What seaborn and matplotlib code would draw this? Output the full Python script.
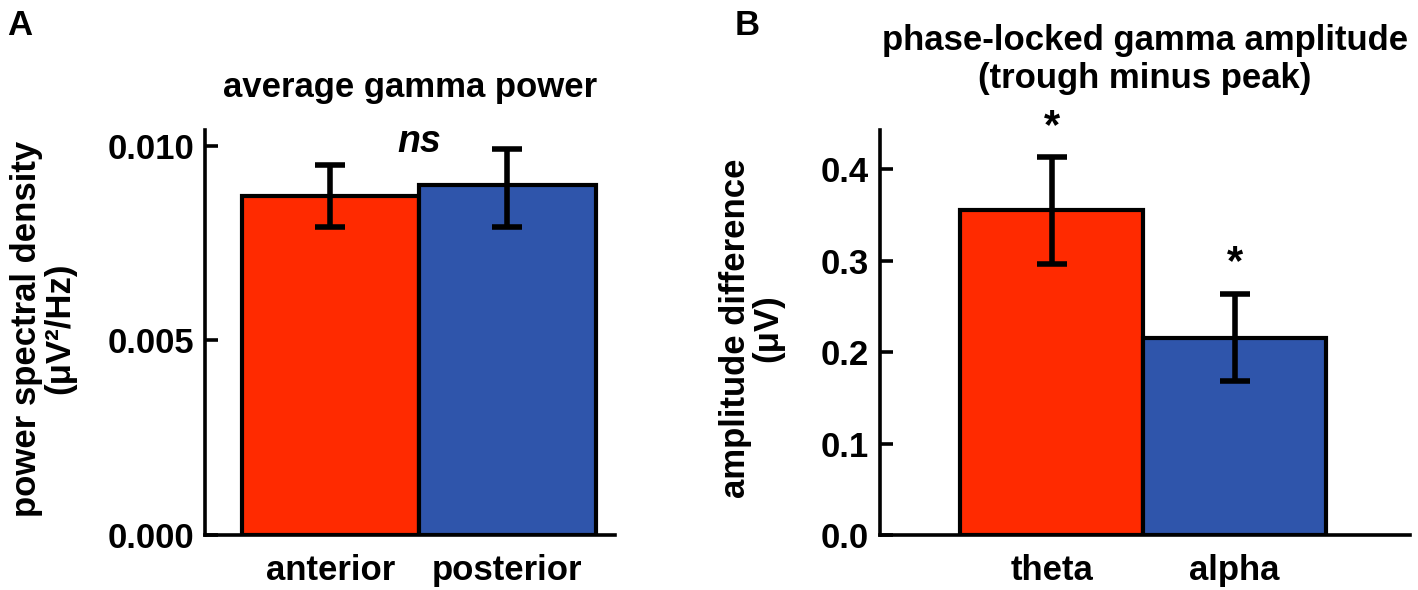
import pandas as pd
import seaborn as sns
import matplotlib.pyplot as plt

# data
regions = ['anterior', 'posterior']
gamma_power = [0.0087, 0.0090]
gamma_power_lo = [0.0079, 0.0079]
gamma_power_hi = [0.0095, 0.0099]

bands = ['theta', 'alpha']
amp_diff = [0.355, 0.216]
amp_diff_lo = [0.296, 0.168]
amp_diff_hi = [0.413, 0.264]
amp_stars = ['*', '*']

bar_colors = ['#ff2a00', '#2f55ab']

sns.set_style('ticks')
plt.rcParams['font.family'] = ['Liberation Sans', 'DejaVu Sans']
plt.rcParams['font.weight'] = 'bold'
plt.rcParams['font.size'] = 25
for key in ['text.color', 'axes.labelcolor', 'xtick.color', 'ytick.color',
            'axes.edgecolor']:
    plt.rcParams[key] = 'black'

fig = plt.figure(figsize=(14.18, 5.9), dpi=100)
ax1 = fig.add_axes([0.1446, 0.0932, 0.2891, 0.6865])
ax2 = fig.add_axes([0.6206, 0.0932, 0.3738, 0.6865])


def draw_panel(ax, cats, vals, lo, hi):
    df = pd.DataFrame({'cat': cats, 'val': vals})
    sns.barplot(data=df, x='cat', y='val', hue='cat', palette=bar_colors,
                saturation=1, width=1.0, edgecolor='black', linewidth=3,
                legend=False, errorbar=None, ax=ax)
    xs = range(len(cats))
    yerr = [[v - l for v, l in zip(vals, lo)], [h - v for v, h in zip(vals, hi)]]
    ax.errorbar(xs, vals, yerr=yerr, fmt='none', ecolor='black',
                elinewidth=4, capsize=11, capthick=4, zorder=5)
    ax.set_xlabel('')
    for s in ['top', 'right']:
        ax.spines[s].set_visible(False)
    for s in ['left', 'bottom']:
        ax.spines[s].set_linewidth(2.6)
    ax.tick_params(axis='x', length=0, pad=14, labelsize=25)
    ax.tick_params(axis='y', direction='in', length=9, width=2.6, pad=8,
                   labelsize=25)


# Panel A: average gamma power
draw_panel(ax1, regions, gamma_power, gamma_power_lo, gamma_power_hi)
ax1.set_xlim(-0.71, 1.61)
ax1.set_ylim(0, 0.0104)
ax1.set_yticks([0, 0.005, 0.010])
ax1.set_yticklabels(['0.000', '0.005', '0.010'])
ax1.set_ylabel('power spectral density\n(μV²/Hz)', fontsize=25,
               fontweight='bold', linespacing=1.0)
ax1.yaxis.set_label_coords(-0.315, 0.51)
ax1.set_title('average gamma power', fontsize=25, fontweight='bold', pad=24)
ax1.text(0.5, max(gamma_power_hi) + 0.0002, 'ns', ha='center', va='center',
         fontsize=27, fontstyle='italic', fontweight='bold')

# Panel B: phase-locked gamma amplitude
draw_panel(ax2, bands, amp_diff, amp_diff_lo, amp_diff_hi)
ax2.set_xlim(-0.94, 1.96)
ax2.set_ylim(0, 0.443)
ax2.set_yticks([0.0, 0.1, 0.2, 0.3, 0.4])
ax2.set_yticklabels(['0.0', '0.1', '0.2', '0.3', '0.4'])
ax2.set_ylabel('amplitude difference\n(μV)', fontsize=25,
               fontweight='bold', linespacing=1.0)
ax2.yaxis.set_label_coords(-0.18, 0.51)
ax2.set_title('phase-locked gamma amplitude\n(trough minus peak)',
              fontsize=25, fontweight='bold', pad=30, linespacing=1.2)
for i, (h, s) in enumerate(zip(amp_diff_hi, amp_stars)):
    ax2.text(i, h + 0.033, s, ha='center', va='center', fontsize=30,
             fontweight='bold')

fig.text(0.005, 0.985, 'A', fontsize=25, fontweight='bold', va='top')
fig.text(0.518, 0.985, 'B', fontsize=25, fontweight='bold', va='top')

fig.savefig('out.png', dpi=100)
